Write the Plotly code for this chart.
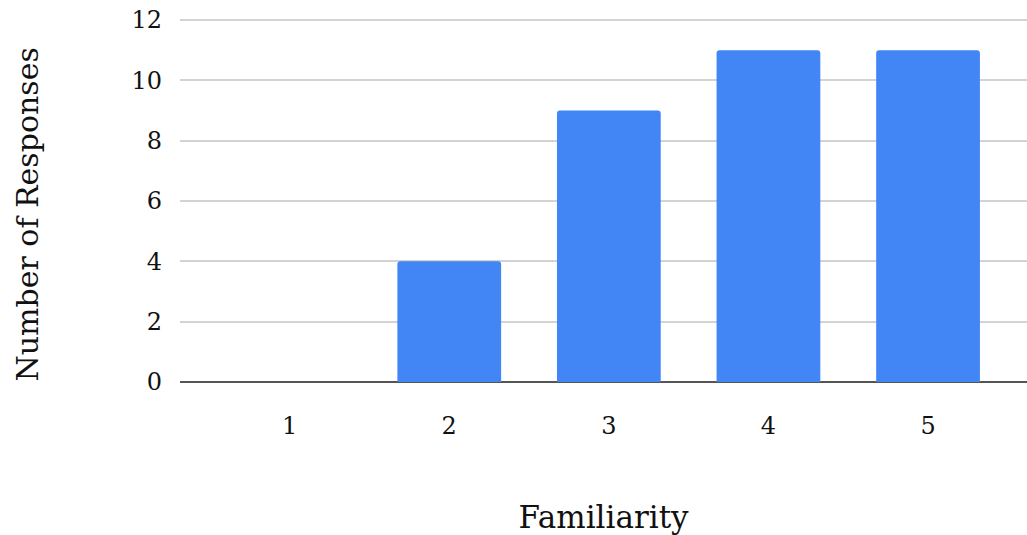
import plotly.graph_objects as go

categories = [1, 2, 3, 4, 5]
responses = [0, 4, 9, 11, 11]
y_ticks = [0, 2, 4, 6, 8, 10, 12]

FONT = "DejaVu Serif"
TXT = "#111111"

fig = go.Figure()
fig.add_trace(go.Bar(
    x=categories, y=responses, width=0.65,
    marker=dict(color="#4285F4", line=dict(width=0)),
))

fig.update_layout(
    width=1027, height=535,
    margin=dict(l=180, r=0, t=14, b=153),
    paper_bgcolor="white", plot_bgcolor="white",
    showlegend=False,
    barcornerradius=3,
    font=dict(family=FONT, color=TXT),
    xaxis=dict(
        range=[0.313, 5.62], automargin=False,
        tickmode="array", tickvals=categories, ticktext=[str(c) for c in categories],
        tickfont=dict(size=24, family=FONT, color=TXT),
        showgrid=False, zeroline=False, showline=False,
        ticks="", ticklabelstandoff=27,
        title=dict(text="Familiarity", font=dict(size=31, family=FONT, color=TXT), standoff=70),
    ),
    yaxis=dict(
        range=[0, 12.2], automargin=False,
        tickmode="array", tickvals=y_ticks, ticktext=[str(v) for v in y_ticks],
        tickfont=dict(size=24, family=FONT, color=TXT),
        showgrid=True, gridcolor="#d3d3d3", gridwidth=1.5,
        zeroline=True, zerolinecolor="#555555", zerolinewidth=1.5,
        showline=False, ticks="", ticklabelstandoff=17,
    ),
    annotations=[dict(
        text="Number of Responses", textangle=-90,
        xref="paper", yref="paper", x=-0.1795, y=0.455,
        xanchor="center", yanchor="middle", showarrow=False,
        font=dict(size=30, family=FONT, color=TXT),
    )],
)

fig.write_html("out.html", config={"displayModeBar": False},
               post_script="document.body.style.margin='0';")
